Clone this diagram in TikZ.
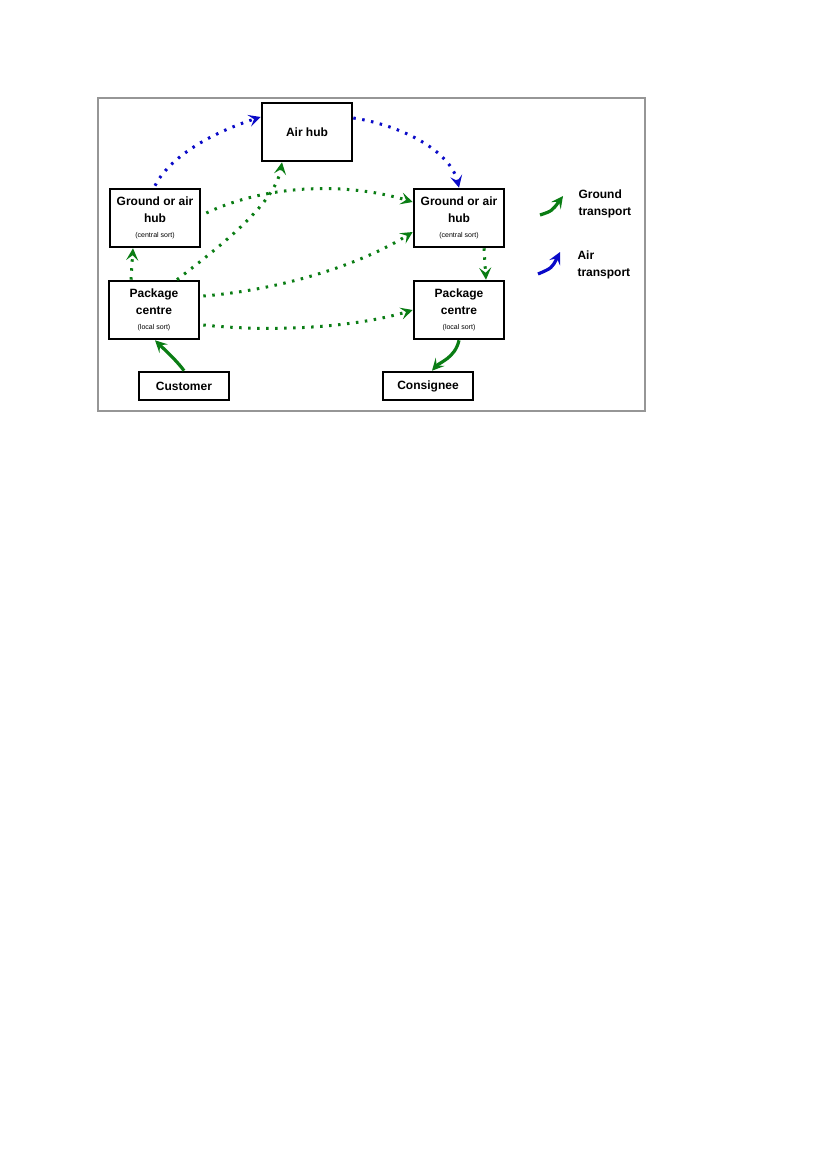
\documentclass[tikz,border=0pt]{standalone}
\usepackage{fontspec}
\setmainfont{Liberation Sans}
\usetikzlibrary{arrows.meta}
\definecolor{ggreen}{RGB}{10,125,20}
\definecolor{gblue}{RGB}{10,10,200}
\definecolor{framegray}{RGB}{150,150,150}
\newcommand{\subtxt}[1]{{\mdseries\fontsize{7}{9}\selectfont #1}}
\begin{document}
\begin{tikzpicture}[x=1pt,y=-1pt,
  box/.style={draw, line width=2.6pt, inner sep=0pt, align=center,
    minimum width=90pt, minimum height=58pt,
    font=\bfseries\fontsize{12}{17}\selectfont},
  smallbox/.style={box, minimum height=28pt},
  gdot/.style={ggreen, line width=3pt, dash pattern=on 2.5pt off 6.5pt,
    -{Stealth[length=12pt,width=12pt,inset=5pt]}},
  bdot/.style={gdot, gblue},
  gsolid/.style={ggreen, line width=3.2pt,
    -{Stealth[length=12pt,width=12pt,inset=5pt]}},
  bsolid/.style={gsolid, gblue},
  legend/.style={anchor=west, align=left, font=\bfseries\fontsize{12}{17}\selectfont}
]
\useasboundingbox (0,0) rectangle (827,1169);
\fill[white] (0,0) rectangle (827,1169);
\draw[framegray, line width=1.5pt] (98,98) rectangle (645,411);

\node[box] (air) at (307,132) {Air hub};
\node[box] (lhub) at (155,218) {\rule{0pt}{3pt}Ground or air\\hub\\[-2pt]\subtxt{(central sort)}};
\node[box] (rhub) at (459,218) {\rule{0pt}{3pt}Ground or air\\hub\\[-2pt]\subtxt{(central sort)}};
\node[box] (lpc) at (154,310) {Package\\centre\\[-2pt]\subtxt{(local sort)}};
\node[box] (rpc) at (459,310) {Package\\centre\\[-2pt]\subtxt{(local sort)}};
\node[smallbox] (cust) at (184,386) {Customer};
\node[smallbox] (cons) at (428,386) {Consignee};

% blue air links
\draw[bdot] ([yshift=2pt]lhub.north) .. controls (168,160) and (205,135) .. ([yshift=15pt]air.west);
\draw[bdot] ([yshift=14pt]air.east) .. controls (400,125) and (450,150) .. (rhub.north);

% green ground links
\draw[gdot] ([xshift=5pt,yshift=5pt]lhub.east) .. controls (270,183) and (350,183) .. ([yshift=16pt]rhub.west);
\draw[gdot] ([xshift=23pt]lpc.north) .. controls (215,250) and (275,205) .. ([xshift=-25pt]air.south);
\draw[gdot] ([xshift=3pt,yshift=14pt]lpc.east) .. controls (280,290) and (360,265) .. ([yshift=-14pt]rhub.west);
\draw[gdot] ([xshift=3pt,yshift=-15pt]lpc.east) .. controls (280,333) and (360,326) .. ([yshift=0pt]rpc.west);
\draw[gdot] ([xshift=-23pt]lpc.north) -- ([xshift=-22pt]lhub.south);
\draw[gdot] ([xshift=25pt]rhub.south) -- ([xshift=27pt]rpc.north);

% solid green
\draw[gsolid] (cust.north) .. controls (178,362) and (165,350) .. ([xshift=1pt]lpc.south);
\draw[gsolid] (rpc.south) .. controls (455,358) and (440,362) .. ([xshift=4pt]cons.north);

% legend
\coordinate (g0) at (540,215);
\coordinate (g1) at (563,196);
\draw[gsolid] (g0) .. controls (552,211) .. (g1);
\node[legend] (glab) at (575,204) {Ground\\transport};
\coordinate (b0) at (538,274);
\coordinate (b1) at (560,252);
\draw[bsolid] (b0) .. controls (552,268) .. (b1);
\node[legend] (blab) at (574,265) {Air\\transport};
\end{tikzpicture}
\end{document}
